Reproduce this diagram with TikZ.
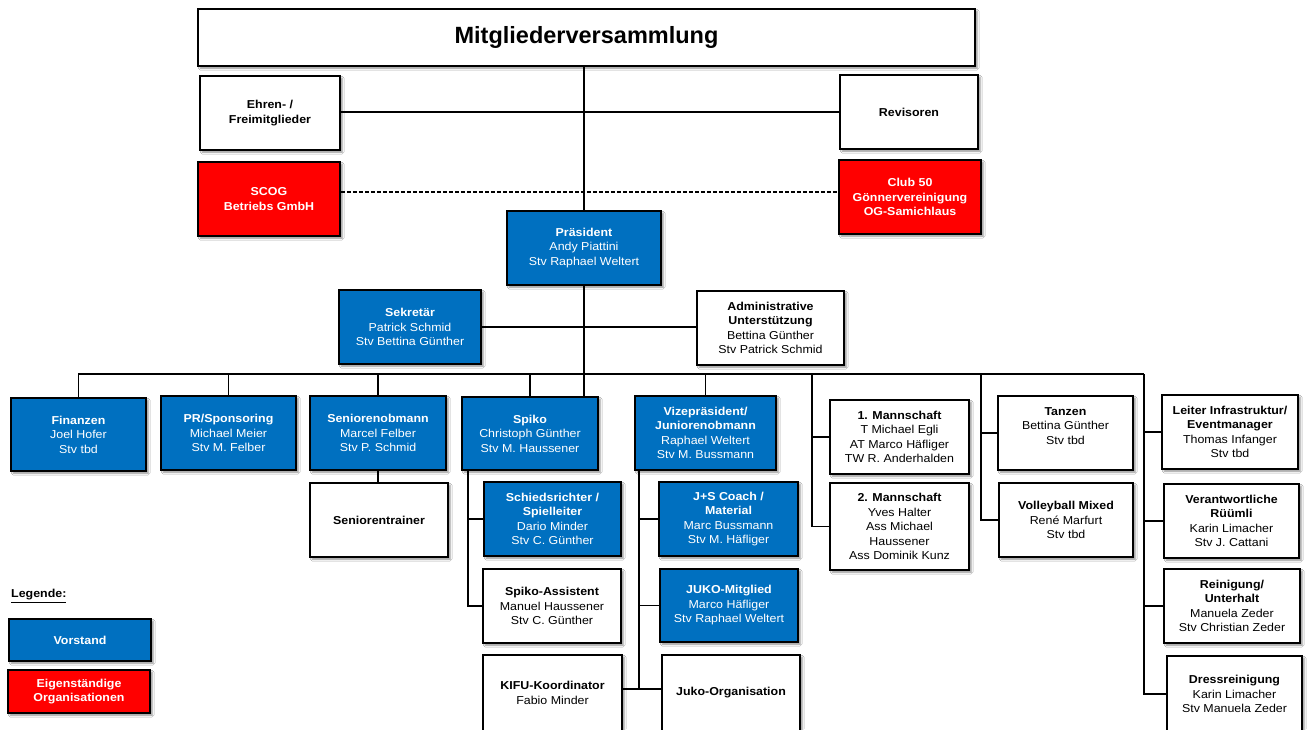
\documentclass[tikz,border=0pt]{standalone}
\usepackage{fontspec}
\setmainfont{Liberation Sans}[FakeStretch=1.08]
\newfontfamily\titlefont{Liberation Sans}
\usetikzlibrary{shadows.blur}
\definecolor{vblue}{RGB}{0,112,192}
\definecolor{vred}{RGB}{255,0,0}
\pgfdeclarelayer{bg}
\pgfsetlayers{bg,main}
\tikzset{
  box/.style={draw=black, line width=1.8pt, fill=white, align=center,
    inner sep=1pt, text=black, font=\fontsize{11.5}{14.5}\selectfont,
    blur shadow={shadow xshift=2.2pt, shadow yshift=-2.2pt,
      shadow blur radius=1.8pt, shadow opacity=45}},
  vorstand/.style={box, fill=vblue, text=white},
  eigen/.style={box, fill=vred, text=white},
  titlebox/.style={box, font=\titlefont\bfseries\fontsize{23.5}{28}\selectfont},
  link/.style={line width=1.4pt, draw=black},
}
% box by its corners: style, name, x1, y1, x2, y2, text
\newcommand\orgbox[7]{%
  \node[#1, minimum width={(#5-#3)*1pt}, minimum height={(#6-#4)*1pt}]
    (#2) at ({(#3+#5)/2},{(#4+#6)/2}) {#7};}

\begin{document}
\begin{tikzpicture}[x=1pt, y=-1pt]
\useasboundingbox (0,0) rectangle (1307,729);
\clip (0,0) rectangle (1307,729);

% top level
\orgbox{titlebox}{mv}{198}{9}{975}{66}{Mitgliederversammlung}
\orgbox{box}{ehren}{200}{76}{340}{150}{\textbf{Ehren- /}\\\textbf{Freimitglieder}}
\orgbox{box}{rev}{840}{75}{978}{149}{\textbf{Revisoren}}
\orgbox{eigen}{scog}{198}{162}{340}{236}{\textbf{SCOG}\\\textbf{Betriebs GmbH}}
\orgbox{eigen}{club}{839}{160}{981}{234}{\textbf{Club 50}\\\textbf{Gönnervereinigung}\\\textbf{OG-Samichlaus}}
\orgbox{vorstand}{pres}{507}{211}{661}{285}{\textbf{Präsident}\\Andy Piattini\\Stv Raphael Weltert}
\orgbox{vorstand}{sek}{339}{290}{481}{364}{\textbf{Sekretär}\\Patrick Schmid\\Stv Bettina Günther}
\orgbox{box}{adm}{697}{291}{844}{365}{\textbf{Administrative}\\\textbf{Unterstützung}\\Bettina Günther\\Stv Patrick Schmid}

% departments
\orgbox{vorstand}{fin}{11}{398}{146}{471}{\textbf{Finanzen}\\Joel Hofer\\Stv tbd}
\orgbox{vorstand}{prs}{161}{396}{296}{470}{\textbf{PR/Sponsoring}\\Michael Meier\\Stv M. Felber}
\orgbox{vorstand}{sen}{310}{396}{446}{470}{\textbf{Seniorenobmann}\\Marcel Felber\\Stv P. Schmid}
\orgbox{box}{strain}{310}{483}{448}{557}{\textbf{Seniorentrainer}}
\orgbox{vorstand}{spiko}{462}{397}{598}{470}{\textbf{Spiko}\\Christoph Günther\\Stv M. Haussener}
\orgbox{vorstand}{vize}{635}{396}{776}{470}{\textbf{Vizepräsident/}\\\textbf{Juniorenobmann}\\Raphael Weltert\\Stv M. Bussmann}
\orgbox{vorstand}{schied}{484}{482}{621}{556}{\textbf{Schiedsrichter /}\\\textbf{Spielleiter}\\Dario Minder\\Stv C. Günther}
\orgbox{box}{sass}{483}{569}{621}{643}{\textbf{Spiko-Assistent}\\Manuel Haussener\\Stv C. Günther}
\orgbox{box}{kifu}{483}{655}{622}{731}{\textbf{KIFU-Koordinator}\\Fabio Minder}
\orgbox{vorstand}{js}{659}{482}{798}{556}{\textbf{J+S Coach /}\\\textbf{Material}\\Marc Bussmann\\Stv M. Häfliger}
\orgbox{vorstand}{jukom}{660}{569}{798}{642}{\textbf{JUKO-Mitglied}\\Marco Häfliger\\Stv Raphael Weltert}
\orgbox{box}{jukoorg}{662}{655}{800}{731}{\textbf{Juko-Organisation}}
\orgbox{box}{m1}{830}{400}{969}{474}{\textbf{1. Mannschaft}\\T Michael Egli\\AT Marco Häfliger\\TW R. Anderhalden}
\orgbox{box}{m2}{830}{483}{969}{570}{\textbf{2. Mannschaft}\\Yves Halter\\Ass Michael\\Haussener\\Ass Dominik Kunz}
\orgbox{box}{tanz}{998}{396}{1133}{470}{\textbf{Tanzen}\\Bettina Günther\\Stv tbd\\~}
\orgbox{box}{volley}{999}{483}{1133}{557}{\textbf{Volleyball Mixed}\\René Marfurt\\Stv tbd}
\orgbox{box}{leiter}{1162}{395}{1298}{469}{\textbf{Leiter Infrastruktur/}\\\textbf{Eventmanager}\\Thomas Infanger\\Stv tbd}
\orgbox{box}{verant}{1164}{484}{1299}{558}{\textbf{Verantwortliche}\\\textbf{Rüümli}\\Karin Limacher\\Stv J. Cattani}
\orgbox{box}{rein}{1164}{569}{1300}{643}{\textbf{Reinigung/}\\\textbf{Unterhalt}\\Manuela Zeder\\Stv Christian Zeder}
\orgbox{box}{dress}{1167}{656}{1302}{732}{\textbf{Dressreinigung}\\Karin Limacher\\Stv Manuela Zeder}

% legend
\node[anchor=west, inner sep=0pt, font=\bfseries\fontsize{11.5}{14.5}\selectfont] (leg) at (11,596) {\underline{Legende:}};
\orgbox{vorstand}{legv}{9}{619}{151}{661}{\textbf{Vorstand}}
\orgbox{eigen}{lege}{8}{670}{150}{713}{\textbf{Eigenständige}\\\textbf{Organisationen}}

% connectors, drawn behind the boxes
\coordinate (dashy) at (0,192);
\coordinate (busR) at (1144,374);
\coordinate (mcol) at (812,374);
\coordinate (tcol) at (981,374);
\coordinate (scol) at (468,470);
\coordinate (vcol) at (639,470);
\coordinate (vbot) at (639,689);
\begin{pgfonlayer}{bg}
  \fill[white] (0,0) rectangle (1307,729);
  \draw[link] (pres.north) -- (pres.north |- mv.south);
  \draw[link] (rev.west) -- (rev.west -| ehren.east);
  \draw[link, dash pattern=on 4pt off 2pt] (scog.east |- dashy) -- (club.west |- dashy);
  \draw[link] (pres.south) -- (pres.south |- spiko.north);
  \draw[link] (sek.east) -- (sek.east -| adm.west);
  \draw[link] (fin.north) |- (busR);
  \foreach \n in {prs,sen,spiko,vize}
    \draw[link] (\n.north) -- (\n.north |- busR);
  \draw[link] (sen.south) -- (sen.south |- strain.north);
  \draw[link] (scol) |- (sass.west);
  \draw[link] (schied.west) -- (schied.west -| scol);
  \draw[link] (vcol) -- (vbot);
  \draw[link] (kifu.east |- vbot) -- (jukoorg.west |- vbot);
  \draw[link] (js.west) -- (js.west -| vcol);
  \draw[link] (jukom.west) -- (jukom.west -| vcol);
  \draw[link] (mcol) |- (m2.west);
  \draw[link] (m1.west) -- (m1.west -| mcol);
  \draw[link] (tcol) |- (volley.west);
  \draw[link] (tanz.west) -- (tanz.west -| tcol);
  \draw[link] (busR) |- (dress.west);
  \foreach \n in {leiter,verant,rein}
    \draw[link] (\n.west) -- (\n.west -| busR);
\end{pgfonlayer}
\end{tikzpicture}
\end{document}
